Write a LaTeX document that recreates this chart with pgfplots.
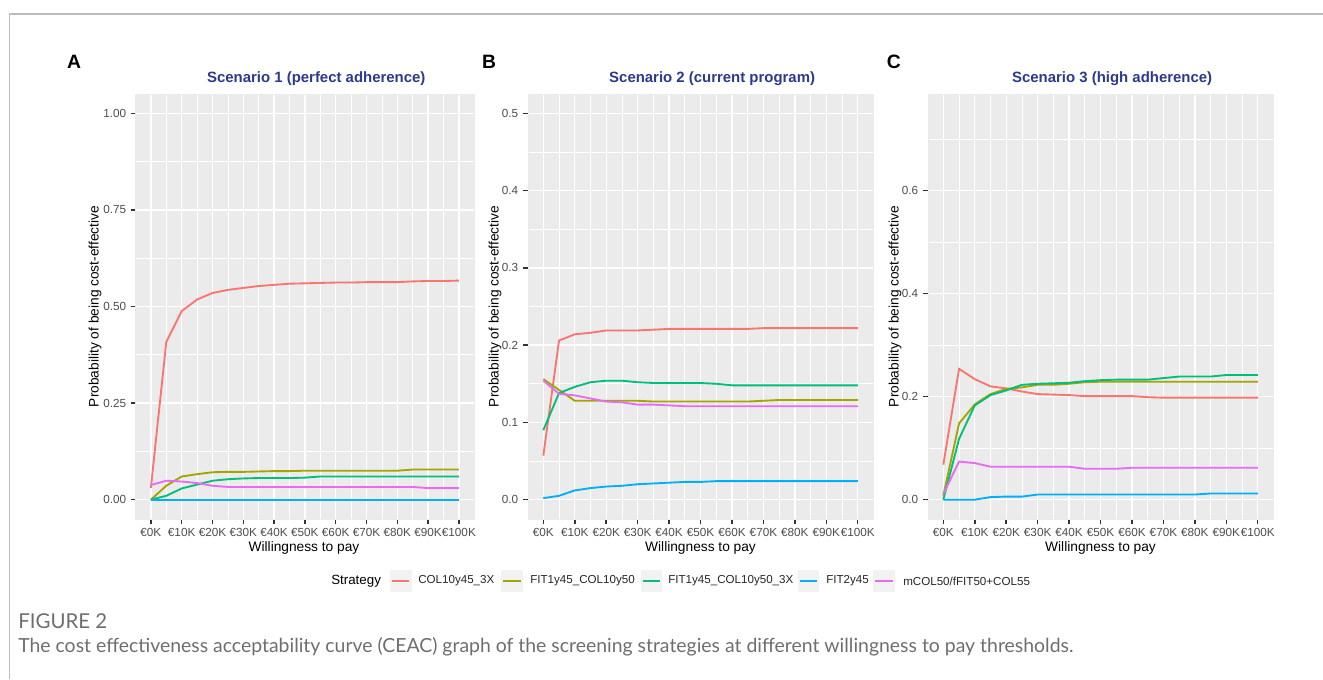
\documentclass[border=0pt]{standalone}
\usepackage{fontspec}
\setmainfont{Liberation Sans}
\newfontfamily\capfont{Lato}
\usepackage{pgfplots}
\usepackage{pgfplotstable}
\pgfplotsset{compat=1.18}

\definecolor{ggred}{HTML}{F8766D}
\definecolor{ggolive}{HTML}{A3A500}
\definecolor{gggreen}{HTML}{00BF7D}
\definecolor{ggblue}{HTML}{00B0F6}
\definecolor{ggpink}{HTML}{E76BF3}
\definecolor{ggbg}{HTML}{EBEBEB}
\definecolor{keybg}{HTML}{F2F2F2}
\definecolor{titleblue}{HTML}{2B3A8C}
\definecolor{tickcol}{HTML}{333333}
\definecolor{ticklab}{HTML}{4D4D4D}
\definecolor{capgray}{HTML}{6E6E6E}
\definecolor{framegray}{HTML}{BDBDBD}

% columns: wtp (K euro), COL10y45_3X, FIT1y45_COL10y50, FIT1y45_COL10y50_3X, FIT2y45, mCOL50/fFIT50+COL55
\pgfplotstableread{
x   red    olive  green  blue   pink
0   0.030  0.000  0.000  0.000  0.038
5   0.408  0.036  0.010  0.000  0.049
10  0.488  0.060  0.029  0.000  0.047
15  0.518  0.066  0.039  0.000  0.043
20  0.535  0.071  0.049  0.000  0.036
25  0.543  0.072  0.053  0.000  0.033
30  0.548  0.072  0.055  0.000  0.033
35  0.553  0.073  0.056  0.000  0.033
40  0.556  0.074  0.056  0.000  0.033
45  0.559  0.074  0.056  0.000  0.033
50  0.560  0.075  0.057  0.000  0.033
55  0.561  0.075  0.060  0.000  0.033
60  0.562  0.075  0.060  0.000  0.033
65  0.562  0.075  0.060  0.000  0.033
70  0.563  0.075  0.060  0.000  0.033
75  0.563  0.075  0.060  0.000  0.033
80  0.563  0.075  0.060  0.000  0.033
85  0.565  0.078  0.060  0.000  0.033
90  0.566  0.078  0.060  0.000  0.030
95  0.566  0.078  0.060  0.000  0.030
100 0.567  0.078  0.060  0.000  0.030
}\scenA

\pgfplotstableread{
x   red    olive  green  blue   pink
0   0.057  0.156  0.090  0.002  0.154
5   0.206  0.142  0.138  0.005  0.137
10  0.214  0.128  0.146  0.012  0.135
15  0.216  0.128  0.152  0.015  0.131
20  0.219  0.128  0.154  0.017  0.127
25  0.219  0.128  0.154  0.018  0.126
30  0.219  0.128  0.152  0.020  0.123
35  0.220  0.127  0.151  0.021  0.123
40  0.221  0.127  0.151  0.022  0.122
45  0.221  0.127  0.151  0.023  0.121
50  0.221  0.127  0.151  0.023  0.121
55  0.221  0.127  0.150  0.024  0.121
60  0.221  0.127  0.148  0.024  0.121
65  0.221  0.127  0.148  0.024  0.121
70  0.222  0.128  0.148  0.024  0.121
75  0.222  0.129  0.148  0.024  0.121
80  0.222  0.129  0.148  0.024  0.121
85  0.222  0.129  0.148  0.024  0.121
90  0.222  0.129  0.148  0.024  0.121
95  0.222  0.129  0.148  0.024  0.121
100 0.222  0.129  0.148  0.024  0.121
}\scenB

\pgfplotstableread{
x   red    olive  green  blue   pink
0   0.068  0.008  0.000  0.000  0.011
5   0.254  0.148  0.118  0.000  0.074
10  0.234  0.185  0.183  0.000  0.071
15  0.220  0.205  0.203  0.005  0.064
20  0.216  0.215  0.212  0.006  0.064
25  0.210  0.218  0.223  0.006  0.064
30  0.205  0.223  0.225  0.010  0.064
35  0.204  0.223  0.226  0.010  0.064
40  0.203  0.225  0.227  0.010  0.064
45  0.201  0.228  0.230  0.010  0.060
50  0.201  0.229  0.232  0.010  0.060
55  0.201  0.229  0.233  0.010  0.060
60  0.201  0.229  0.233  0.010  0.062
65  0.199  0.229  0.233  0.010  0.062
70  0.198  0.229  0.236  0.010  0.062
75  0.198  0.229  0.239  0.010  0.062
80  0.198  0.229  0.239  0.010  0.062
85  0.198  0.229  0.239  0.012  0.062
90  0.198  0.229  0.242  0.012  0.062
95  0.198  0.229  0.242  0.012  0.062
100 0.198  0.229  0.242  0.012  0.062
}\scenC

\pgfplotsset{
  gg/.style={
    scale only axis, height=318.75pt, anchor=south west,
    xmin=-5, xmax=105,
    xtick={0,10,...,100}, minor xtick={5,15,...,95},
    xticklabels={€0K,€10K,€20K,€30K,€40K,€50K,€60K,€70K,€80K,€90K,€100K},
    axis background/.style={fill=ggbg},
    grid=both,
    major grid style={white, line width=1pt},
    minor grid style={white, line width=0.5pt},
    axis line style={ggbg, line width=0.1pt},
    tick align=outside, major tick length=3.5pt, minor tick length=0pt,
    xtick pos=bottom, ytick pos=left,
    every tick/.style={draw=tickcol, line width=1.1pt},
    tick style={draw=tickcol, line width=1.1pt},
    every tick label/.append style={font=\fontsize{8.8}{10}\selectfont, text=ticklab},
    xticklabel style={inner xsep=0pt},
    no markers,
    every axis plot/.append style={line width=1.4pt},
  },
}

\newcommand{\curves}[1]{%
  \addplot[ggred]   table[x=x, y=red]   {#1};
  \addplot[ggolive] table[x=x, y=olive] {#1};
  \addplot[gggreen] table[x=x, y=green] {#1};
  \addplot[ggblue]  table[x=x, y=blue]  {#1};
  \addplot[ggpink]  table[x=x, y=pink]  {#1};
}

\begin{document}
\begin{tikzpicture}
\path[use as bounding box] (0,0) rectangle (992.25pt,509.25pt);
\draw[framegray, line width=1pt] (6.9pt,0) -- (6.9pt,498.75pt) -- (992.25pt,498.75pt);

% panel A
\begin{axis}[gg, at={(101.6pt,120pt)}, width=254.1pt,
  ymin=-0.05, ymax=1.05,
  ytick={0,0.25,0.5,0.75,1}, minor ytick={0.125,0.375,0.625,0.875},
  yticklabels={0.00,0.25,0.50,0.75,1.00}]
\curves{\scenA}
\end{axis}

% panel B
\begin{axis}[gg, at={(395.7pt,120pt)}, width=259.4pt,
  ymin=-0.025, ymax=0.525,
  ytick={0,0.1,...,0.5}, minor ytick={0.05,0.15,0.25,0.35,0.45},
  yticklabels={0.0,0.1,0.2,0.3,0.4,0.5}]
\curves{\scenB}
\end{axis}

% panel C
\begin{axis}[gg, at={(695.7pt,120pt)}, width=259.4pt,
  ymin=-0.0375, ymax=0.7875,
  ytick={0,0.2,0.4,0.6}, minor ytick={0.1,0.3,0.5,0.7},
  yticklabels={0.0,0.2,0.4,0.6}]
\curves{\scenC}
\end{axis}

% panel letters and titles
\begin{scope}[every node/.style={font=\fontsize{14.5}{16}\selectfont\bfseries}]
\node at (55.6pt,462.75pt) {A};
\node at (366.9pt,462.75pt) {B};
\node at (670.4pt,462.75pt) {C};
\end{scope}
\begin{scope}[every node/.style={font=\fontsize{11.2}{13}\selectfont\bfseries, text=titleblue}]
\node at (237.2pt,450pt) {Scenario 1 (perfect adherence)};
\node at (534.1pt,450pt) {Scenario 2 (current program)};
\node at (834.1pt,450pt) {Scenario 3 (high adherence)};
\end{scope}

% axis titles
\begin{scope}[every node/.style={font=\fontsize{10.3}{12}\selectfont}]
\node[rotate=90] at (71.25pt,279.4pt) {Probability of being cost-effective};
\node[rotate=90] at (371.25pt,279.4pt) {Probability of being cost-effective};
\node[rotate=90] at (671.25pt,279.4pt) {Probability of being cost-effective};
\node at (228pt,98.25pt) {Willingness to pay};
\node at (525.4pt,98.25pt) {Willingness to pay};
\node at (825.4pt,98.25pt) {Willingness to pay};
\end{scope}

% legend
\node[anchor=west, inner sep=0pt, font=\fontsize{10}{12}\selectfont] at (248.25pt,73.5pt) {Strategy};
\foreach \cx/\col in {300.6/ggred, 384/ggolive, 488.6/gggreen, 606.4/ggblue, 663/ggpink}{
  \fill[keybg] (\cx pt-8.15pt,65.35pt) rectangle (\cx pt+8.15pt,81.65pt);
  \draw[\col, line width=1.4pt] (\cx pt-6.4pt,73.5pt) -- (\cx pt+6.4pt,73.5pt);
}
\begin{scope}[every node/.style={anchor=west, inner sep=0pt, font=\fontsize{8.7}{10}\selectfont, text=black!85}]
\node at (313.5pt,73.5pt) {COL10y45\_3X};
\node at (397.5pt,73.5pt) {FIT1y45\_COL10y50};
\node at (501pt,73.5pt) {FIT1y45\_COL10y50\_3X};
\node at (619.5pt,73.5pt) {FIT2y45};
\node at (677.25pt,73.5pt) {mCOL50/fFIT50+COL55};
\end{scope}

% caption
\node[anchor=west, inner sep=0pt, text=capgray] at (13.5pt,43.5pt)
  {\resizebox{66.75pt}{!}{\capfont\fontsize{10}{12}\selectfont FIGURE 2}};
\node[anchor=west, inner sep=0pt, text=capgray] at (13.5pt,24pt)
  {\resizebox{791.25pt}{!}{\capfont\fontsize{12}{14}\selectfont The cost effectiveness acceptability curve (CEAC) graph of the screening strategies at different willingness to pay thresholds.}};
\end{tikzpicture}
\end{document}
